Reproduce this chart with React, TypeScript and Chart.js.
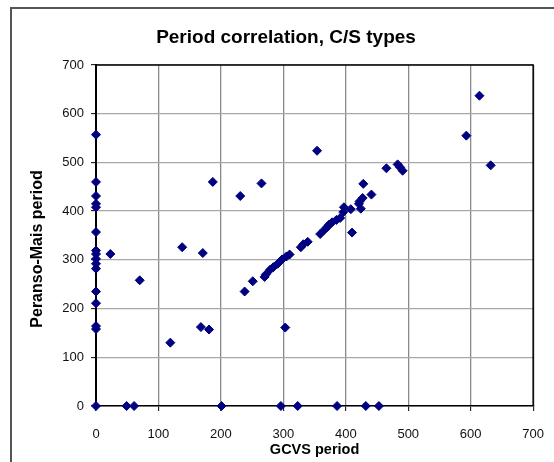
import { useEffect, useRef } from "react";
import { Chart, registerables } from "chart.js";

Chart.register(...registerables);

// GCVS period (x) and Peranso-Mais period (y)
const gcvsPeriod = [
  0, 0, 0, 0, 0, 0, 0, 0, 0, 0, 0, 0, 0, 0, 0, 0,
  23, 70, 138, 171, 119, 168, 181, 187,
  49, 61, 201, 296, 323, 386, 432, 453,
  231, 265, 354, 303,
  238, 251, 270, 272, 279, 284, 291, 298, 305, 310,
  328, 332, 339, 359, 366, 370, 373, 378, 385, 391,
  396, 397, 408, 410, 421, 422, 424, 427, 428, 441,
  465, 483, 487, 491, 593, 614, 632,
];
const peransoPeriod = [
  557, 460, 431, 415, 408, 357, 319, 312, 302, 292, 282, 235, 211, 164, 158, 0,
  312, 258, 326, 314, 130, 162, 157, 460,
  0, 0, 0, 0, 0, 0, 0, 0,
  431, 457, 524, 161,
  235, 256, 265, 270, 280, 285, 292, 301, 307, 311,
  326, 332, 337, 353, 362, 367, 372, 377, 382, 386,
  398, 408, 404, 356, 415, 420, 405, 427, 456, 434,
  488, 496, 490, 483, 555, 637, 494,
];
const axisMin = 0;
const axisMax = 700;
const axisStep = 100;

const chartTitle = "Period correlation, C/S types";
const xTitle = "GCVS period";
const yTitle = "Peranso-Mais period";

const FONT = "'Liberation Sans', Arial, sans-serif";

export default function App() {
  const ref = useRef<HTMLCanvasElement>(null);

  useEffect(() => {
    if (!ref.current) return;
    const framePlugin = {
      id: "frame",
      beforeDraw(chart: any) {
        const { ctx, width, height } = chart;
        ctx.save();
        ctx.fillStyle = "#ffffff";
        ctx.fillRect(0, 0, width, height);
        ctx.strokeStyle = "#555555";
        ctx.lineWidth = 2;
        ctx.beginPath();
        ctx.moveTo(11, height);
        ctx.lineTo(11, 8);
        ctx.lineTo(width, 8);
        ctx.stroke();
        ctx.restore();
      },
      beforeDatasetsDraw(chart: any) {
        const { ctx, chartArea } = chart;
        ctx.save();
        ctx.strokeStyle = "#000000";
        ctx.lineWidth = 1.5;
        ctx.beginPath();
        ctx.moveTo(chartArea.left, chartArea.top);
        ctx.lineTo(chartArea.right, chartArea.top);
        ctx.lineTo(chartArea.right, chartArea.bottom);
        ctx.stroke();
        ctx.restore();
      },
      afterDraw(chart: any) {
        // y-axis title, placed as in the reference (slightly below the plot centre)
        const { ctx } = chart;
        ctx.save();
        ctx.translate(38, 249);
        ctx.rotate(-Math.PI / 2);
        ctx.fillStyle = "#000000";
        ctx.font = `bold 16px ${FONT}`;
        ctx.textAlign = "center";
        ctx.textBaseline = "middle";
        ctx.fillText(yTitle, 0, 0);
        ctx.restore();
      },
    };

    const chart = new Chart(ref.current, {
      type: "scatter",
      data: {
        datasets: [
          {
            label: yTitle,
            data: gcvsPeriod.map((x, i) => ({ x, y: peransoPeriod[i] })),
            pointStyle: "rectRot",
            radius: 4.5,
            hoverRadius: 4.5,
            backgroundColor: "#000080",
            borderColor: "#000080",
            borderWidth: 1,
            clip: false,
          } as any,
        ],
      },
      options: {
        animation: false,
        responsive: false,
        events: [],
        layout: { padding: { left: 35, right: 17, top: 10, bottom: 0 } },
        plugins: {
          legend: { display: false },
          tooltip: { enabled: false },
          title: {
            display: true,
            text: chartTitle,
            color: "#000000",
            font: { family: FONT, size: 19, weight: "bold" },
            padding: { top: 16.1, bottom: 16.1 },
          },
        },
        scales: {
          x: {
            type: "linear",
            min: axisMin,
            max: axisMax,
            afterFit: (s: any) => {
              s.height = 56;
            },
            ticks: {
              stepSize: axisStep,
              color: "#111111",
              padding: 10,
              font: { family: FONT, size: 13, lineHeight: 2 },
            },
            grid: {
              color: "#8a8a8a",
              lineWidth: 1.3,
              tickColor: "#000000",
              tickLength: 5,
              tickWidth: 1,
            },
            border: { color: "#000000", width: 1.5 },
            title: {
              display: true,
              text: xTitle,
              color: "#000000",
              font: { family: FONT, size: 14.5, weight: "bold" },
              padding: { top: 0, bottom: 3.3 },
            },
          },
          y: {
            type: "linear",
            min: axisMin,
            max: axisMax,
            afterFit: (s: any) => {
              s.width = 61;
            },
            ticks: {
              stepSize: axisStep,
              color: "#111111",
              padding: 7,
              font: { family: FONT, size: 13 },
            },
            grid: {
              color: "#a8a8a8",
              lineWidth: 1.3,
              tickColor: "#000000",
              tickLength: 5,
              tickWidth: 1,
            },
            border: { color: "#000000", width: 2 },
            title: { display: false, text: yTitle },
          },
        },
      },
      plugins: [framePlugin],
    });
    return () => chart.destroy();
  }, []);

  return (
    <div style={{ position: "absolute", left: 0, top: 0, width: 554, height: 462 }}>
      <canvas ref={ref} width={554} height={462} style={{ display: "block" }} />
    </div>
  );
}
